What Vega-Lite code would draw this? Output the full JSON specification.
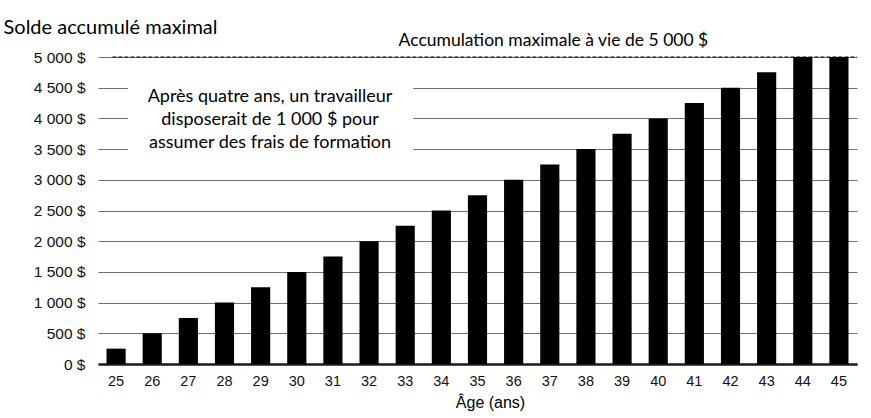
{
  "$schema": "https://vega.github.io/schema/vega-lite/v6.json",
  "width": 759,
  "height": 307,
  "autosize": "none",
  "padding": {"left": 98, "top": 57, "right": 14, "bottom": 54},
  "background": "white",
  "config": {
    "view": {"stroke": null},
    "axis": {"labelFont": "Liberation Sans", "labelColor": "#111", "titleColor": "#000"}
  },
  "data": {
    "values": [
      {"age": 25, "solde": 250}, {"age": 26, "solde": 500}, {"age": 27, "solde": 750},
      {"age": 28, "solde": 1000}, {"age": 29, "solde": 1250}, {"age": 30, "solde": 1500},
      {"age": 31, "solde": 1750}, {"age": 32, "solde": 2000}, {"age": 33, "solde": 2250},
      {"age": 34, "solde": 2500}, {"age": 35, "solde": 2750}, {"age": 36, "solde": 3000},
      {"age": 37, "solde": 3250}, {"age": 38, "solde": 3500}, {"age": 39, "solde": 3750},
      {"age": 40, "solde": 4000}, {"age": 41, "solde": 4250}, {"age": 42, "solde": 4500},
      {"age": 43, "solde": 4750}, {"age": 44, "solde": 5000}, {"age": 45, "solde": 5000}
    ]
  },
  "resolve": {"scale": {"x": "independent"}, "axis": {"x": "independent", "y": "independent"}},
  "layer": [
    {
      "mark": {"type": "bar", "color": "#000"},
      "encoding": {
        "x": {
          "field": "age",
          "type": "ordinal",
          "scale": {"paddingInner": 0.47, "paddingOuter": 0.235},
          "title": "Âge (ans)",
          "axis": {
            "labelAngle": 0,
            "labelFontSize": 14.5,
            "labelPadding": 10,
            "ticks": false,
            "domainColor": "#1a1a1a",
            "domainWidth": 2.5,
            "titleFont": "Liberation Sans",
            "titleFontSize": 16,
            "titleFontWeight": "normal",
            "titleX": 392,
            "titleAlign": "center",
            "titlePadding": 7
          }
        },
        "y": {
          "field": "solde",
          "type": "quantitative",
          "scale": {"domain": [0, 5000], "nice": false},
          "title": "Solde accumulé maximal",
          "axis": {
            "values": [0, 500, 1000, 1500, 2000, 2500, 3000, 3500, 4000, 4500, 5000],
            "labelExpr": "replace(format(datum.value, ','), ',', ' ') + ' $'",
            "labelFontSize": 15.5,
            "labelPadding": 13,
            "labelOverlap": false,
            "ticks": false,
            "domain": false,
            "grid": true,
            "gridColor": "#707070",
            "gridWidth": 1,
            "titleAngle": 0,
            "titleAlign": "left",
            "titleBaseline": "middle",
            "titleX": -95,
            "titleY": -30,
            "titleFont": "Lato",
            "titleFontSize": 20,
            "titleFontWeight": "normal"
          }
        }
      }
    },
    {
      "data": {"values": [{}]},
      "mark": {"type": "rect", "color": "white"},
      "encoding": {
        "x": {"datum": 25.33, "type": "quantitative", "scale": {"domain": [24.5, 45.5], "nice": false, "zero": false}, "axis": null},
        "x2": {"datum": 33.22},
        "y": {"datum": 3300, "type": "quantitative", "axis": null},
        "y2": {"datum": 4750}
      }
    },
    {
      "data": {"values": [{}]},
      "mark": {"type": "rule", "color": "#000", "strokeDash": [4, 2], "strokeWidth": 1},
      "encoding": {
        "x": {"datum": 24.9, "type": "quantitative", "scale": {"domain": [24.5, 45.5], "nice": false, "zero": false}, "axis": null},
        "x2": {"datum": 45.5},
        "y": {"datum": 5000, "type": "quantitative", "axis": null}
      }
    },
    {
      "data": {"values": [{"texte": "Accumulation maximale à vie de 5 000 $"}]},
      "mark": {"type": "text", "font": "Lato", "fontSize": 17.5, "align": "center", "baseline": "middle", "color": "#000"},
      "encoding": {
        "x": {"datum": 37.1, "type": "quantitative", "scale": {"domain": [24.5, 45.5], "nice": false, "zero": false}, "axis": null},
        "y": {"datum": 5260, "type": "quantitative", "axis": null},
        "text": {"field": "texte"}
      }
    },
    {
      "data": {"values": [{"texte": ["Après quatre ans, un travailleur", "disposerait de 1 000 $ pour", "assumer des frais de formation"]}]},
      "mark": {"type": "text", "font": "Lato", "fontSize": 18, "lineHeight": 23, "align": "center", "baseline": "middle", "color": "#000"},
      "encoding": {
        "x": {"datum": 29.26, "type": "quantitative", "scale": {"domain": [24.5, 45.5], "nice": false, "zero": false}, "axis": null},
        "y": {"datum": 4350, "type": "quantitative", "axis": null},
        "text": {"field": "texte"}
      }
    }
  ]
}
